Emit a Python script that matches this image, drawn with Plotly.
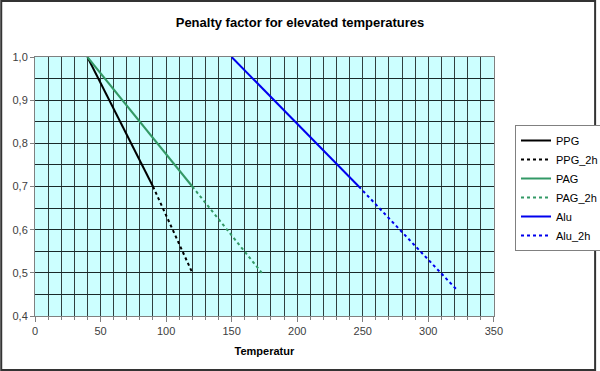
import plotly.graph_objects as go

names = ["PPG", "PPG_2h", "PAG", "PAG_2h", "Alu", "Alu_2h"]
temps = [[40, 90], [90, 120], [40, 120], [120, 173], [150, 247], [247, 322]]
factors = [[1.0, 0.7], [0.7, 0.5], [1.0, 0.7], [0.7, 0.5], [1.0, 0.7], [0.7, 0.46]]
colors = ["#000000", "#000000", "#339966", "#339966", "#0000EE", "#0000EE"]
dashes = ["solid", "dot", "solid", "dot", "solid", "dot"]

fig = go.Figure()
for n, t, f, c, d in zip(names, temps, factors, colors, dashes):
    fig.add_trace(go.Scatter(x=t, y=f, mode="lines", name=n,
                             line=dict(color=c, width=2, dash=d)))

grid = "#2f3f3f"
fig.update_layout(
    width=600, height=371,
    separators=",.",
    paper_bgcolor="white", plot_bgcolor="#CCFFFF",
    margin=dict(l=35, r=103, t=57, b=55),
    font=dict(family="Arial, Liberation Sans, sans-serif", size=11, color="#404040"),
    title=dict(text="<b>Penalty factor for elevated temperatures</b>",
               x=0.5, xref="container", xanchor="center",
               y=1 - 22 / 371, yref="container", yanchor="middle",
               font=dict(size=13, color="#000000")),
    legend=dict(x=515 / 600, xref="container", xanchor="left",
                y=1 - 125 / 371, yref="container", yanchor="top",
                bgcolor="white", bordercolor="#808080", borderwidth=1,
                font=dict(size=11, color="#000000"),
                tracegroupgap=0, itemwidth=30),
    showlegend=True,
)
fig.update_xaxes(range=[0, 350], dtick=50, tick0=0,
                 showgrid=True, gridcolor=grid, gridwidth=1,
                 minor=dict(dtick=10, showgrid=True, gridcolor=grid, gridwidth=1,
                            ticks="outside", ticklen=3, tickcolor="#808080"),
                 ticks="outside", ticklen=5, tickcolor="#808080",
                 showline=True, linecolor="#808080", linewidth=1, mirror=True,
                 zeroline=False,
                 title=dict(text="<b>Temperatur</b>", font=dict(size=11, color="#000000"),
                            standoff=11))
fig.update_yaxes(range=[0.4, 1.0], dtick=0.1, tick0=0.4, tickformat=".1f",
                 showgrid=True, gridcolor="#1a2a2a", gridwidth=1,
                 minor=dict(dtick=0.05, showgrid=True, gridcolor="#1a2a2a", gridwidth=1),
                 ticks="outside", ticklen=4, tickcolor="#808080",
                 showline=True, linecolor="#808080", linewidth=1, mirror=True,
                 zeroline=False)

fig.add_shape(type="rect", xref="paper", yref="paper",
              x0=-34 / 462, x1=1 + 102 / 462, y0=-54 / 259, y1=1 + 56 / 259,
              line=dict(color="#333333", width=2), fillcolor="rgba(0,0,0,0)")

fig.write_html("out.html", config={"displayModeBar": False},
               post_script="document.body.style.margin='0';document.body.style.overflow='hidden';")
